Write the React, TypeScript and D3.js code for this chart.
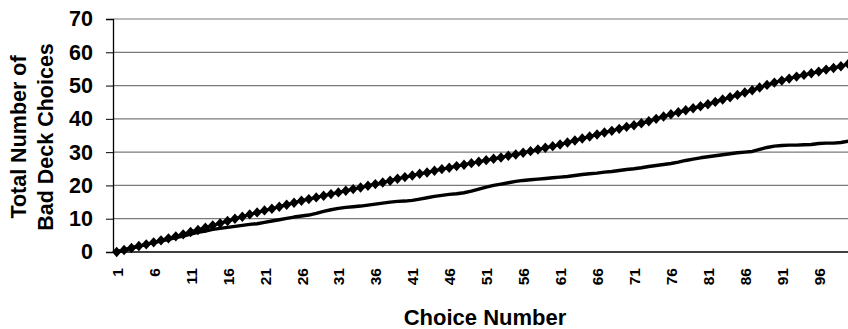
import { useEffect, useRef } from 'react'
import * as d3 from 'd3'

// Cumulative bad deck choices per choice number
const CHOICES = d3.range(1, 101)

const MARKED_SERIES = [
  0, 0.6, 1.2, 1.8, 2.3, 2.9, 3.5, 4.1, 4.7, 5.3,
  6.0, 6.6, 7.3, 8.0, 8.6, 9.3, 10.0, 10.6, 11.3, 11.9,
  12.5, 13.0, 13.6, 14.2, 14.8, 15.4, 15.9, 16.4, 16.9, 17.4,
  17.9, 18.4, 18.9, 19.4, 19.9, 20.4, 20.9, 21.4, 22.0, 22.5,
  23.0, 23.5, 23.9, 24.4, 24.9, 25.3, 25.8, 26.2, 26.7, 27.1,
  27.6, 28.0, 28.4, 28.9, 29.3, 29.8, 30.3, 30.8, 31.3, 31.8,
  32.3, 32.9, 33.5, 34.1, 34.7, 35.3, 35.9, 36.4, 37.0, 37.6,
  38.1, 38.7, 39.3, 40.0, 40.7, 41.4, 42.0, 42.6, 43.2, 43.8,
  44.4, 45.1, 45.8, 46.5, 47.2, 47.9, 48.6, 49.4, 50.2, 50.9,
  51.5, 52.1, 52.7, 53.2, 53.7, 54.2, 54.8, 55.3, 55.8, 56.5,
]

const PLAIN_SERIES = [
  0, 0.6, 1.2, 1.7, 2.3, 2.8, 3.3, 3.8, 4.3, 4.8,
  5.4, 5.9, 6.3, 6.8, 7.1, 7.4, 7.7, 8.0, 8.3, 8.5,
  8.9, 9.3, 9.7, 10.1, 10.5, 10.8, 11.1, 11.6, 12.2, 12.7,
  13.1, 13.4, 13.6, 13.8, 14.1, 14.4, 14.7, 15.0, 15.2, 15.3,
  15.5, 15.9, 16.3, 16.7, 17.0, 17.3, 17.5, 17.8, 18.3, 18.9,
  19.5, 20.0, 20.4, 20.8, 21.2, 21.5, 21.7, 21.9, 22.1, 22.3,
  22.5, 22.7, 23.0, 23.3, 23.5, 23.7, 24.0, 24.2, 24.5, 24.8,
  25.0, 25.3, 25.7, 26.0, 26.3, 26.6, 27.0, 27.5, 27.9, 28.3,
  28.6, 28.9, 29.2, 29.5, 29.8, 30.0, 30.2, 30.8, 31.4, 31.8,
  32.0, 32.1, 32.1, 32.2, 32.3, 32.6, 32.7, 32.7, 32.9, 33.3,
]

const Y_TICKS = [0, 10, 20, 30, 40, 50, 60, 70]
const X_LABELS = CHOICES.filter((c) => (c - 1) % 5 === 0)

const WIDTH = 848
const HEIGHT = 329
const MARGIN = { top: 19, left: 113, bottom: 77 }
const BAND = 7.39
const FONT = '"Liberation Sans", Arial, sans-serif'

export default function App() {
  const svgRef = useRef<SVGSVGElement | null>(null)

  useEffect(() => {
    if (!svgRef.current) return
    const svg = d3.select(svgRef.current)
    svg.selectAll('*').remove()

    const innerH = HEIGHT - MARGIN.top - MARGIN.bottom
    const innerW = BAND * CHOICES.length

    const x = d3.scaleBand<number>().domain(CHOICES).range([0, innerW])
    const y = d3.scaleLinear().domain([0, 70]).range([innerH, 0])
    const cx = (c: number) => (x(c) ?? 0) + x.bandwidth() / 2

    const g = svg.append('g').attr('transform', `translate(${MARGIN.left},${MARGIN.top})`)

    // ── Grid ───────────────────────────────────────────────────────────────
    g.append('g')
      .selectAll('line').data(Y_TICKS.filter((t) => t > 0)).join('line')
      .attr('x1', 0).attr('x2', innerW)
      .attr('y1', (d) => y(d)).attr('y2', (d) => y(d))
      .attr('stroke', '#7a7a7a').attr('stroke-width', 1.2)

    // ── y axis ─────────────────────────────────────────────────────────────
    g.append('g')
      .call(d3.axisLeft(y).tickValues(Y_TICKS).tickSize(7).tickPadding(13).tickFormat(d3.format('d')))
      .call((a) => a.select('.domain').attr('stroke', '#000').attr('stroke-width', 1.3))
      .call((a) => a.selectAll('line').attr('stroke', '#000'))
      .call((a) => a.selectAll('text')
        .attr('font-family', FONT).attr('font-size', 21.5).attr('font-weight', 'bold').attr('fill', '#000'))

    // ── x axis ─────────────────────────────────────────────────────────────
    g.append('line')
      .attr('x1', 0).attr('x2', innerW).attr('y1', innerH).attr('y2', innerH)
      .attr('stroke', '#000').attr('stroke-width', 1.6)

    g.append('g')
      .selectAll('text').data(X_LABELS).join('text')
      .attr('transform', (d) => `translate(${cx(d) + 0.5},${innerH + 16}) rotate(-90)`)
      .attr('text-anchor', 'end').attr('dy', '0.36em')
      .attr('font-family', FONT).attr('font-size', 15.5).attr('font-weight', 'bold')
      .text((d) => d)

    // ── Series ─────────────────────────────────────────────────────────────
    const line = d3.line<number>().x((_, i) => cx(CHOICES[i])).y((d) => y(d))

    g.append('path').datum(PLAIN_SERIES)
      .attr('d', line).attr('fill', 'none')
      .attr('stroke', '#000').attr('stroke-width', 3.4).attr('stroke-linejoin', 'round')

    g.append('path').datum(MARKED_SERIES)
      .attr('d', line).attr('fill', 'none')
      .attr('stroke', '#000').attr('stroke-width', 3)

    const r = 5.2
    g.append('g')
      .selectAll('path').data(MARKED_SERIES).join('path')
      .attr('transform', (d, i) => `translate(${cx(CHOICES[i])},${y(d)})`)
      .attr('d', `M0,${-r}L${r * 0.9},0L0,${r}L${-r * 0.9},0Z`)
      .attr('fill', '#000')

    // ── Titles ─────────────────────────────────────────────────────────────
    const yTitle = svg.append('text')
      .attr('transform', `translate(0,137) rotate(-90)`)
      .attr('text-anchor', 'middle')
      .attr('font-family', FONT).attr('font-size', 21.5).attr('font-weight', 'bold')
    yTitle.append('tspan').attr('x', 0).attr('y', 26).text('Total Number of')
    yTitle.append('tspan').attr('x', 0).attr('y', 53).text('Bad Deck Choices')

    svg.append('text')
      .attr('x', 485).attr('y', 325)
      .attr('text-anchor', 'middle')
      .attr('font-family', FONT).attr('font-size', 22).attr('font-weight', 'bold')
      .text('Choice Number')
  }, [])

  return (
    <svg
      ref={svgRef}
      width={WIDTH}
      height={HEIGHT}
      style={{ position: 'absolute', left: 0, top: 0, background: '#fff', display: 'block' }}
    />
  )
}
